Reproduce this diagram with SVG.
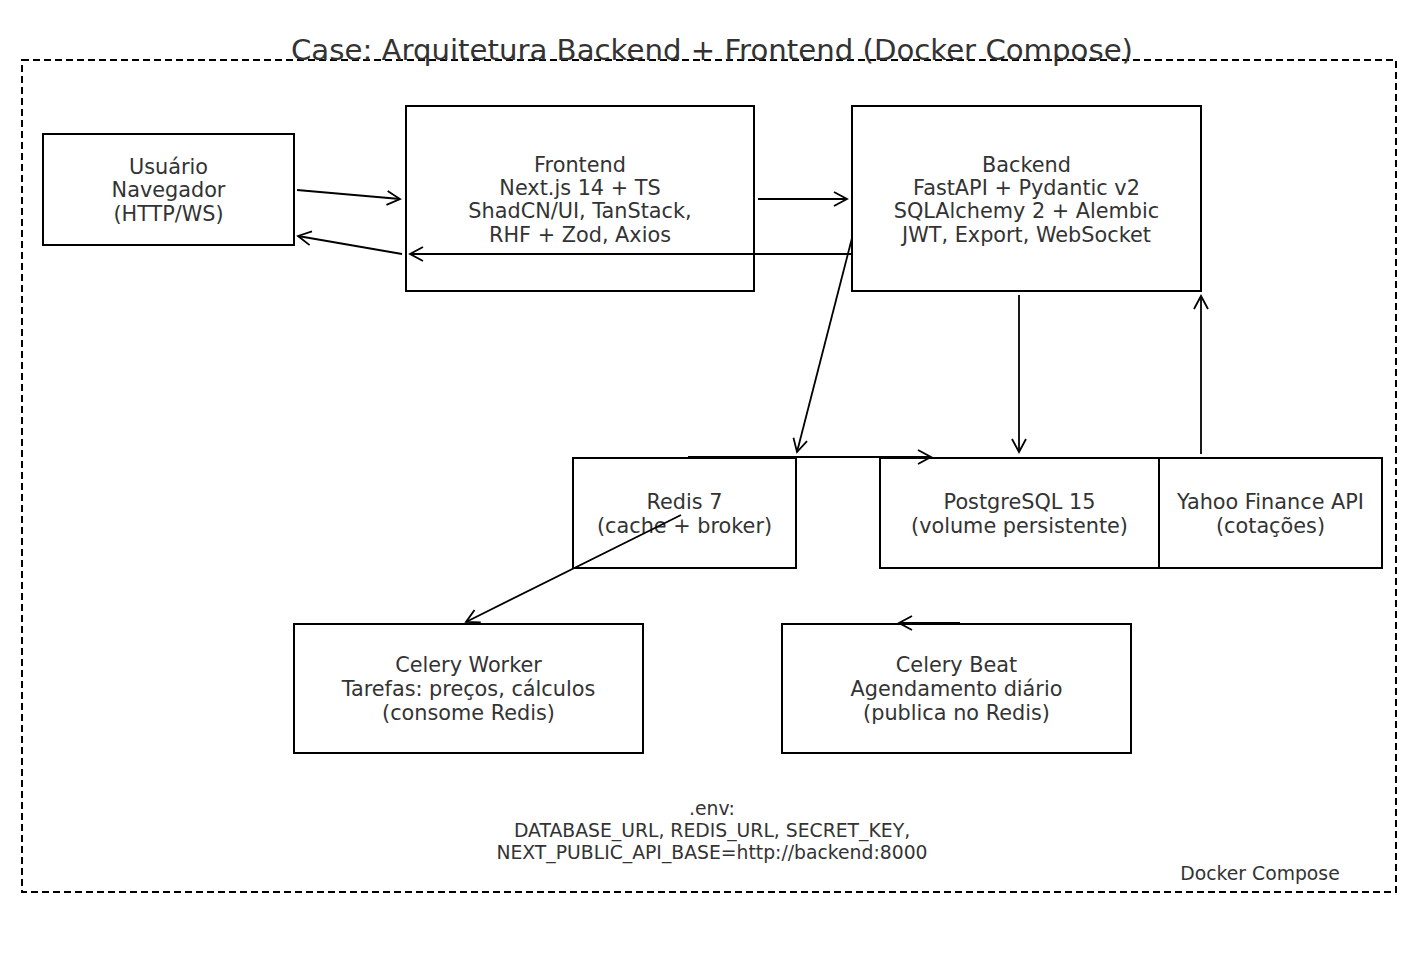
<svg xmlns="http://www.w3.org/2000/svg" width="1425" height="953" viewBox="0 0 1425 953">
<style>
text{font-family:"DejaVu Sans","Noto Sans",sans-serif;fill:#333333;text-anchor:middle}
.t{font-size:20.8px}
.s{font-size:18.8px}
.title{font-size:29.2px}
.box{fill:#ffffff;stroke:#000000;stroke-width:2}
.c{stroke:#000000;stroke-width:1.8;fill:none;marker-end:url(#ah)}
</style>
<defs>
<marker id="ah" viewBox="0 0 16 16" refX="14" refY="8" markerWidth="16" markerHeight="16" markerUnits="userSpaceOnUse" orient="auto">
<path d="M1,1 L14,8 L1,15" fill="none" stroke="#000000" stroke-width="1.8"/>
</marker>
</defs>
<rect width="1425" height="953" fill="#ffffff"/>
<rect id="compose" x="22" y="60" width="1374" height="832" fill="none" stroke="#000000" stroke-width="2" stroke-dasharray="7,4"/>
<text class="title" x="712" y="60">Case: Arquitetura Backend + Frontend (Docker Compose)</text>
<g id="usuario"><rect class="box" x="43" y="134" width="251" height="111"/>
<text class="t" x="168.5" y="174">Usuário</text><text class="t" x="168.5" y="197">Navegador</text><text class="t" x="168.5" y="221">(HTTP/WS)</text></g>
<g id="frontend"><rect class="box" x="406" y="106" width="348" height="185"/>
<text class="t" x="580" y="172">Frontend</text><text class="t" x="580" y="195">Next.js 14 + TS</text><text class="t" x="580" y="218">ShadCN/UI, TanStack,</text><text class="t" x="580" y="242">RHF + Zod, Axios</text></g>
<g id="backend"><rect class="box" x="852" y="106" width="349" height="185"/>
<text class="t" x="1026.5" y="172">Backend</text><text class="t" x="1026.5" y="195">FastAPI + Pydantic v2</text><text class="t" x="1026.5" y="218">SQLAlchemy 2 + Alembic</text><text class="t" x="1026.5" y="242">JWT, Export, WebSocket</text></g>
<g id="redis"><rect class="box" x="573" y="458" width="223" height="110"/>
<text class="t" x="684.5" y="509">Redis 7</text><text class="t" x="684.5" y="533">(cache + broker)</text></g>
<g id="postgres"><rect class="box" x="880" y="458" width="279" height="110"/>
<text class="t" x="1019.5" y="509">PostgreSQL 15</text><text class="t" x="1019.5" y="533">(volume persistente)</text></g>
<g id="yahoo"><rect class="box" x="1159" y="458" width="223" height="110"/>
<text class="t" x="1270.5" y="509">Yahoo Finance API</text><text class="t" x="1270.5" y="533">(cotações)</text></g>
<g id="worker"><rect class="box" x="294" y="624" width="349" height="129"/>
<text class="t" x="468.5" y="672">Celery Worker</text><text class="t" x="468.5" y="696">Tarefas: preços, cálculos</text><text class="t" x="468.5" y="720">(consome Redis)</text></g>
<g id="beat"><rect class="box" x="782" y="624" width="349" height="129"/>
<text class="t" x="956.5" y="672">Celery Beat</text><text class="t" x="956.5" y="696">Agendamento diário</text><text class="t" x="956.5" y="720">(publica no Redis)</text></g>
<g id="connectors">
<line class="c" x1="297" y1="190" x2="400" y2="199"/>
<line class="c" x1="402" y1="254" x2="298" y2="236"/>
<line class="c" x1="758" y1="199" x2="847" y2="199"/>
<line class="c" x1="852" y1="254" x2="410" y2="254"/>
<line class="c" x1="852" y1="238" x2="797" y2="452"/>
<line class="c" x1="1019" y1="295" x2="1019" y2="452"/>
<line class="c" x1="1201" y1="454" x2="1201" y2="296"/>
<line class="c" x1="688" y1="457" x2="931" y2="457"/>
<line class="c" x1="681" y1="515" x2="466" y2="622"/>
<line class="c" x1="960" y1="623" x2="899" y2="623"/>
</g>
<g id="notes">
<text class="s" x="712" y="815">.env:</text>
<text class="s" x="712" y="837">DATABASE_URL, REDIS_URL, SECRET_KEY,</text>
<text class="s" x="712" y="859">NEXT_PUBLIC_API_BASE=http://backend:8000</text>
<text class="s" x="1260" y="880">Docker Compose</text>
</g>
</svg>
